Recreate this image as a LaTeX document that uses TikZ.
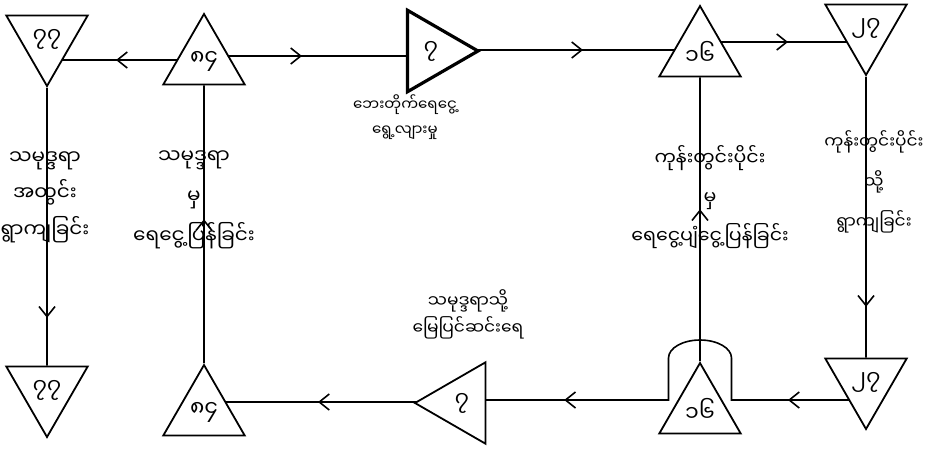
\documentclass[tikz,border=0pt]{standalone}
\usepackage{fontspec}
\newfontfamily\mya[Script=Myanmar]{Noto Sans Myanmar UI}
\usetikzlibrary{shapes.geometric,arrows.meta,decorations.markings,backgrounds}
\begin{document}
\begin{tikzpicture}[x=1pt,y=-1pt,
  tri/.style={draw, line width=1.8pt, fill=white, regular polygon, regular polygon sides=3,
    minimum size=94pt, inner sep=0pt, font=\mya\fontsize{22}{22}\selectfont},
  tridown/.style={tri, shape border rotate=180},
  triup/.style={tri},
  flow/.style={line width=1.6pt},
  lbl/.style 2 args={font=\mya\fontsize{#1}{#2}\selectfont, inner sep=0pt, align=center},
  barb/.tip={Straight Barb[length=10pt,width=16pt,line width=1.6pt]},
  arrat/.style={postaction={decorate}, decoration={markings,
    mark=at position #1 with {\arrow{barb}}}},
]
\useasboundingbox (0,0) rectangle (928,448);

% triangles, top row
\node[tridown] (n77t) at (47,39) {၇၇};
\node[triup]   (n84t) at (204,61) {၈၄};
\node[tri, shape border rotate=-90, line width=3.2pt] (n7t) at (431,51) {၇};
\node[triup]   (n16t) at (700,53) {၁၆};
\node[tridown] (n27t) at (866,28) {၂၇};
% triangles, bottom row
\node[tridown] (n77b) at (47,390) {၇၇};
\node[triup]   (n84b) at (204,412) {၈၄};
\node[tri, shape border rotate=90] (n7b) at (462,403) {၇};
\node[triup]   (n16b) at (700,410) {၁၆};
\node[tridown] (n27b) at (866,382) {၂၇};

% arch over the lower 16
\coordinate (archR) at ([xshift=31.5pt]n16b.center |- 0,400);
\coordinate (archL) at ([xshift=-31.5pt]n16b.center |- 0,400);

\begin{scope}[on background layer]
  \draw[flow, arrat=88pt]  (n84t.center |- 0,60) -- (n77t.center |- 0,60);
  \draw[flow, arrat=98pt]  (n84t.center |- 0,56) -- (n7t.center |- 0,56);
  \draw[flow, arrat=152pt] (n7t.center |- 0,50) -- (n16t.center |- 0,50);
  \draw[flow, arrat=88pt]  (n16t.center |- 0,42) -- (n27t.center |- 0,42);
  \draw[flow, arrat=230pt] (n27t) -- (n27b);
  \draw[flow, arrat=144pt] (n7b.center |- 0,402) -- (n84b.center |- 0,402);
  \draw[flow, arrat=144pt] (n84b) -- (n84t);
  \draw[flow, arrat=152pt] (n16b) -- (n16t);
  \draw[flow, arrat=230pt] (n77t) -- (n77b);
  \draw[flow, postaction={decorate}, decoration={markings,
      mark=at position 78pt with {\arrow{barb}},
      mark=at position 402pt with {\arrow{barb}}}]
    (n27b.center |- 0,400) -- (archR) -- ++(0,-42)
    arc[start angle=0, end angle=-180, x radius=31.5, y radius=18]
    -- (archL) -- (n7b.center |- 0,400);
\end{scope}

% labels
\node[lbl={20}{36.5pt}] (l1) at (45,197) {သမုဒ္ဒရာ\\အတွင်း\\ရွာကျခြင်း};
\node[lbl={20}{40pt}]   (l2) at (194,200) {သမုဒ္ဒရာ\\မှ\\ရေငွေ့ပြန်ခြင်း};
\node[lbl={15}{25pt}]   (l3) at (405,117) {ဘေးတိုက်ရေငွေ့\\ရွေ့လျားမှု};
\node[lbl={19}{39pt}]   (l4) at (710,197) {ကုန်းတွင်းပိုင်း\\မှ\\ရေငွေ့ပျံငွေ့ပြန်ခြင်း};
\node[lbl={17}{40pt}]   (l5) at (874,182) {ကုန်းတွင်းပိုင်း\\သို့\\ရွာကျခြင်း};
\node[lbl={17}{27pt}]   (l6) at (468,314) {သမုဒ္ဒရာသို့\\မြေပြင်ဆင်းရေ};
\end{tikzpicture}
\end{document}
